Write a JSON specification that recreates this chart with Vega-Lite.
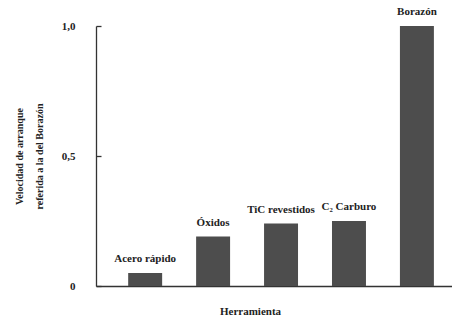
{
  "$schema": "https://vega.github.io/schema/vega-lite/v6.json",
  "width": 356,
  "height": 260,
  "autosize": {"type": "none"},
  "padding": {"left": 96, "top": 26, "right": 0, "bottom": 35},
  "background": "white",
  "config": {
    "view": {"stroke": null},
    "font": "Liberation Serif",
    "axis": {"grid": false, "domainColor": "#333", "domainWidth": 1.3, "labelFont": "Liberation Serif", "titleFont": "Liberation Serif", "labelColor": "#222", "titleColor": "#222"}
  },
  "data": {
    "values": [
      {"herramienta": "Acero rápido", "valor": 0.05},
      {"herramienta": "Óxidos", "valor": 0.19},
      {"herramienta": "TiC revestidos", "valor": 0.24},
      {"herramienta": "C₂ Carburo", "valor": 0.25},
      {"herramienta": "Borazón", "valor": 1.0}
    ]
  },
  "encoding": {
    "x": {
      "field": "herramienta",
      "type": "nominal",
      "sort": null,
      "scale": {"paddingInner": 0.5, "paddingOuter": 0.37, "align": 0.64},
      "axis": {"ticks": false, "labels": false, "title": "Herramienta", "titleFontSize": 11, "titleFontWeight": "bold", "titlePadding": 19, "titleX": 154}
    },
    "y": {
      "field": "valor",
      "type": "quantitative",
      "scale": {"domain": [0, 1], "nice": false},
      "axis": {
        "values": [0, 0.5, 1],
        "labelExpr": "datum.value == 0 ? '0' : replace(format(datum.value, '.1f'), '.', ',')",
        "tickSize": -5,
        "tickWidth": 1.3,
        "tickColor": "#333",
        "labelPadding": 26,
        "labelFontSize": 11,
        "labelFontWeight": "bold",
        "title": ["Velocidad de arranque", "referida a la del Borazón"],
        "titleFontSize": 10,
        "titleFontWeight": "bold",
        "titlePadding": 17,
        "titleLineHeight": 20
      }
    }
  },
  "layer": [
    {"mark": {"type": "bar", "color": "#4d4d4d"}},
    {
      "mark": {"type": "text", "baseline": "bottom", "dy": -9, "fontSize": 11, "fontWeight": "bold", "color": "#222", "font": "Liberation Serif"},
      "encoding": {"text": {"field": "herramienta"}}
    }
  ]
}
